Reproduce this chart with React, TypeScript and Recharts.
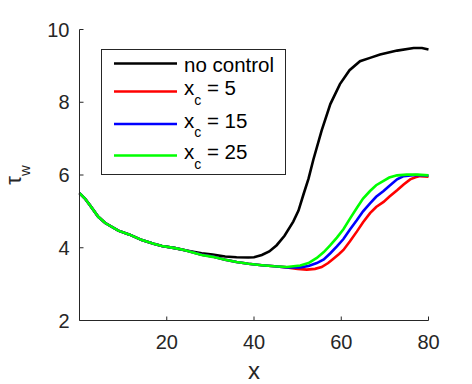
import React from "react";
import { LineChart, Line, XAxis, YAxis, Legend } from "recharts";

// ---- data ----
const xTicks = [20, 40, 60, 80];
const yTicks = [2, 4, 6, 8, 10];

const noControlX = [0, 1.2, 2.4, 4.3, 5.9, 8.9, 11.5, 14.3, 17, 18.9, 21.9, 24.2, 28, 30.5, 33.4, 36, 38.7, 40, 41.8, 43.5, 45.2, 47, 49, 50.2, 51.3, 52.5, 53.6, 55.5, 57.5, 59.7, 61.9, 64.3, 66.6, 68.9, 72.8, 76.6, 78.5, 80];
const noControlY = [5.5, 5.36, 5.17, 4.85, 4.68, 4.47, 4.36, 4.21, 4.11, 4.05, 3.99, 3.93, 3.85, 3.81, 3.76, 3.74, 3.73, 3.74, 3.8, 3.9, 4.07, 4.33, 4.72, 5.02, 5.45, 5.9, 6.42, 7.22, 7.95, 8.5, 8.88, 9.13, 9.22, 9.31, 9.42, 9.49, 9.49, 9.45];

const xc5X = [0, 1.2, 2.4, 4.3, 5.9, 8.9, 11.5, 14.3, 17, 18.9, 21.9, 24.2, 28, 30.5, 33.4, 36, 38.7, 41.8, 44.7, 47.5, 50, 52.1, 54, 55.5, 57, 58.2, 59.5, 60.5, 62, 63.6, 65, 66.6, 68, 69.7, 71, 72.8, 74.3, 75.8, 77, 78.1, 80];
const xc5Y = [5.5, 5.36, 5.17, 4.85, 4.68, 4.47, 4.36, 4.21, 4.11, 4.05, 3.99, 3.93, 3.81, 3.76, 3.67, 3.61, 3.56, 3.52, 3.49, 3.46, 3.42, 3.4, 3.42, 3.47, 3.58, 3.7, 3.83, 3.94, 4.18, 4.45, 4.7, 4.95, 5.12, 5.26, 5.4, 5.58, 5.74, 5.88, 5.94, 5.97, 5.95];

const xc15X = [0, 1.2, 2.4, 4.3, 5.9, 8.9, 11.5, 14.3, 17, 18.9, 21.9, 24.2, 28, 30.5, 33.4, 36, 38.7, 41.8, 44.7, 47.5, 50.6, 52.5, 54.4, 56, 57.5, 59, 60.5, 62, 63.6, 65, 66.6, 68, 69.7, 71, 72.8, 74.3, 77, 80];
const xc15Y = [5.5, 5.36, 5.17, 4.85, 4.68, 4.47, 4.36, 4.21, 4.11, 4.05, 3.99, 3.93, 3.81, 3.76, 3.67, 3.61, 3.56, 3.52, 3.49, 3.46, 3.46, 3.5, 3.58, 3.68, 3.85, 4.04, 4.24, 4.5, 4.76, 5.0, 5.22, 5.4, 5.56, 5.7, 5.88, 5.97, 6.0, 5.98];

const xc25X = [0, 1.2, 2.4, 4.3, 5.9, 8.9, 11.5, 14.3, 17, 18.9, 21.9, 24.2, 28, 30.5, 33.4, 36, 38.7, 41.8, 44.7, 47.5, 50.6, 52.5, 54.4, 56, 57.5, 59, 60.5, 62, 63.6, 65, 66.6, 68, 69.7, 71, 72.8, 75, 77.5, 80];
const xc25Y = [5.5, 5.36, 5.17, 4.85, 4.68, 4.47, 4.36, 4.21, 4.11, 4.05, 3.99, 3.93, 3.8, 3.75, 3.67, 3.61, 3.56, 3.52, 3.49, 3.47, 3.51, 3.58, 3.72, 3.88, 4.07, 4.28, 4.51, 4.8, 5.1, 5.35, 5.56, 5.72, 5.84, 5.93, 5.99, 6.01, 6.01, 5.99];

const seriesNames = ["no control", "x_c = 5", "x_c = 15", "x_c = 25"];
const seriesColors = ["#000000", "#ff0000", "#0000ff", "#00ff00"];

const toPoints = (xs: number[], ys: number[]) => xs.map((x, i) => ({ x, y: ys[i] }));
const seriesData = [
  toPoints(noControlX, noControlY),
  toPoints(xc5X, xc5Y),
  toPoints(xc15X, xc15Y),
  toPoints(xc25X, xc25Y),
];

// ---- styling ----
const FONT = "'Liberation Sans', Arial, Helvetica, sans-serif";
const INK = "#262626";
const TICK_LEN = 4;

const LeftTick = (props: any) => {
  const { x, y, payload } = props;
  return (
    <g>
      <line x1={x} x2={x + TICK_LEN} y1={y} y2={y} stroke={INK} strokeWidth={1} />
      <text x={x - 10} y={y + 7} textAnchor="end" fontSize={20} fontFamily={FONT} fill={INK}>
        {payload.value}
      </text>
    </g>
  );
};
const RightTick = (props: any) => {
  const { x, y } = props;
  return <line x1={x - TICK_LEN} x2={x} y1={y} y2={y} stroke={INK} strokeWidth={1} />;
};
const BottomTick = (props: any) => {
  const { x, y, payload } = props;
  return (
    <g>
      <line x1={x} x2={x} y1={y} y2={y - TICK_LEN} stroke={INK} strokeWidth={1} />
      <text x={x} y={y + 28.5} textAnchor="middle" fontSize={20} fontFamily={FONT} fill={INK}>
        {payload.value}
      </text>
    </g>
  );
};
const TopTick = (props: any) => {
  const { x, y } = props;
  return <line x1={x} x2={x} y1={y} y2={y + TICK_LEN} stroke={INK} strokeWidth={1} />;
};

const XLabel = (props: any) => {
  const vb = props.viewBox || {};
  return (
    <text x={vb.x + vb.width / 2} y={vb.y + 58} textAnchor="middle" fontSize={24} fontFamily={FONT} fill={INK}>
      x
    </text>
  );
};
const YLabel = (props: any) => {
  const vb = props.viewBox || {};
  const cx = vb.x + 1.5;
  const cy = vb.y + vb.height / 2;
  return (
    <text
      x={cx}
      y={cy}
      transform={`rotate(-90, ${cx}, ${cy})`}
      textAnchor="middle"
      fontSize={22}
      fontFamily={FONT}
      fill={INK}
    >
      τ
      <tspan dy={9} fontSize={15}>
        w
      </tspan>
    </text>
  );
};

const renderName = (name: string, baseY: number, x: number) => {
  const idx = name.indexOf("_");
  if (idx < 0) {
    return (
      <text x={x} y={baseY} fontSize={20.5} fontFamily={FONT} fill="#000">
        {name}
      </text>
    );
  }
  const head = name.slice(0, idx);
  const sub = name.slice(idx + 1, idx + 2);
  const rest = name.slice(idx + 2);
  return (
    <text x={x} y={baseY} fontSize={20.5} fontFamily={FONT} fill="#000">
      {head}
      <tspan dy={9.5} fontSize={14}>
        {sub}
      </tspan>
      <tspan dy={-9.5}>{"\u00a0" + rest.trimStart().replace(/ /g, "\u00a0")}</tspan>
    </text>
  );
};

const LEGEND_W = 185;
const LEGEND_H = 126;
const rowLineY = [14.5, 42.5, 75, 106.5];
const rowBaseY = [22.5, 46, 78.5, 110];

const LegendBox = (props: any) => {
  const payload = [...(props.payload || [])].sort(
    (a: any, b: any) => seriesNames.indexOf(String(a.value)) - seriesNames.indexOf(String(b.value))
  );
  return (
    <svg width={LEGEND_W} height={LEGEND_H} style={{ display: "block" }}>
      <rect x={0.5} y={0.5} width={LEGEND_W - 1} height={LEGEND_H - 1} fill="#fff" stroke={INK} strokeWidth={1} />
      {payload.map((entry: any, i: number) => (
        <g key={i}>
          <line x1={13} x2={76} y1={rowLineY[i]} y2={rowLineY[i]} stroke={entry.color} strokeWidth={2.6} />
          {renderName(String(entry.value), rowBaseY[i], 83)}
        </g>
      ))}
    </svg>
  );
};

export default function App() {
  return (
    <div style={{ position: "absolute", left: 0, top: 0, width: 472, height: 384, background: "#fff" }}>
      <LineChart width={472} height={384} margin={{ top: 29.5, right: 43.5, bottom: 23.5, left: 19.5 }}>
        <XAxis
          xAxisId="bottom"
          dataKey="x"
          type="number"
          domain={[0, 80]}
          ticks={xTicks}
          orientation="bottom"
          height={40}
          tickSize={0}
          tickMargin={0}
          tickLine={false}
          axisLine={{ stroke: INK, strokeWidth: 1 }}
          tick={<BottomTick />}
          label={<XLabel />}
        />
        <XAxis
          xAxisId="top"
          dataKey="x"
          type="number"
          domain={[0, 80]}
          ticks={xTicks}
          orientation="top"
          height={0}
          tickSize={0}
          tickMargin={0}
          tickLine={false}
          axisLine={{ stroke: INK, strokeWidth: 1 }}
          tick={<TopTick />}
        />
        <YAxis
          yAxisId="left"
          type="number"
          domain={[2, 10]}
          ticks={yTicks}
          orientation="left"
          width={60}
          tickSize={0}
          tickMargin={0}
          tickLine={false}
          axisLine={{ stroke: INK, strokeWidth: 1 }}
          tick={<LeftTick />}
          label={<YLabel />}
        />
        <YAxis
          yAxisId="right"
          type="number"
          domain={[2, 10]}
          ticks={yTicks}
          orientation="right"
          width={0}
          tickSize={0}
          tickMargin={0}
          tickLine={false}
          axisLine={{ stroke: INK, strokeWidth: 1 }}
          tick={<RightTick />}
        />
        {seriesData.map((d, i) => (
          <Line
            key={seriesNames[i]}
            xAxisId="bottom"
            yAxisId="left"
            data={d}
            dataKey="y"
            name={seriesNames[i]}
            stroke={seriesColors[i]}
            strokeWidth={2.6}
            dot={false}
            activeDot={false}
            type="linear"
            isAnimationActive={false}
          />
        ))}
        <Legend
          layout="horizontal"
          verticalAlign="middle"
          align="center"
          content={<LegendBox />}
          wrapperStyle={{ position: "absolute", left: 101, top: 49, width: LEGEND_W, height: LEGEND_H }}
        />
      </LineChart>
    </div>
  );
}
